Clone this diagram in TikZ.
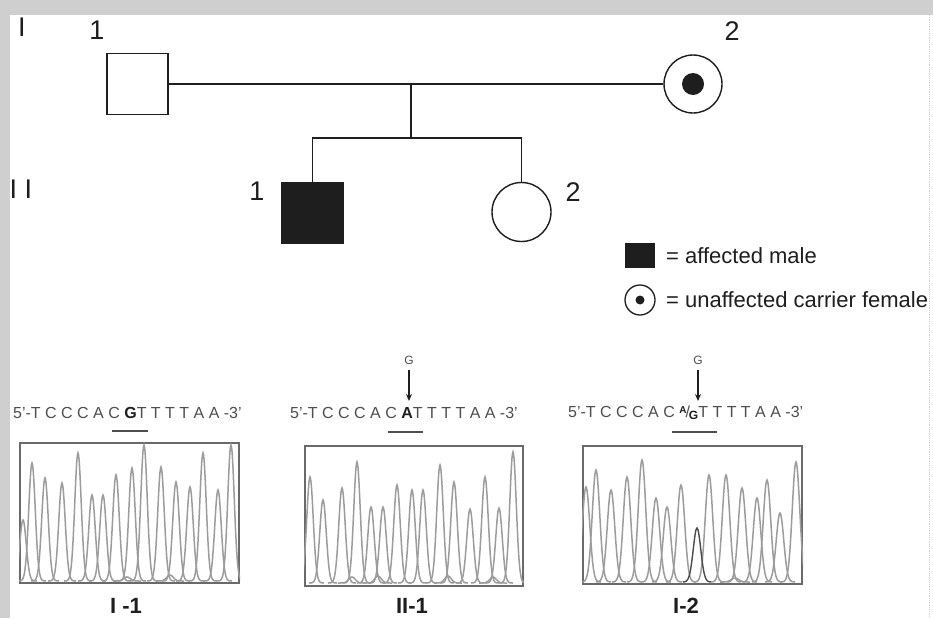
\documentclass[tikz,border=0pt]{standalone}
\usepackage{fontspec}
\setmainfont{Liberation Sans}
\usetikzlibrary{positioning,calc,arrows.meta}
\definecolor{pedink}{HTML}{1E1E1E}
\definecolor{edgegray}{HTML}{CFCFCF}
\definecolor{tracegray}{HTML}{9C9C9C}
\definecolor{boxgray}{HTML}{6A6A6A}
\definecolor{seqgray}{HTML}{4E4E4E}

\begin{document}
\begin{tikzpicture}[x=1pt,y=-1pt,
  malesq/.style={draw=pedink, line width=1.6pt, minimum width=61pt, minimum height=61pt, inner sep=0pt},
  femcirc/.style={circle, draw=pedink, line width=1.4pt, minimum size=58pt, inner sep=0pt},
  pedlink/.style={draw=pedink, line width=1.6pt},
  gennum/.style={font=\fontsize{27}{30}\selectfont, text=pedink, inner sep=0pt},
  legtext/.style={font=\fontsize{22}{26}\selectfont, text=pedink, anchor=west, inner sep=0pt},
  seqtext/.style={font=\fontsize{16}{19}\selectfont, text=seqgray, anchor=west, inner sep=0pt},
  basemark/.style={font=\fontsize{12}{14}\selectfont, text=seqgray, inner sep=0pt},
  seqbar/.style={draw=seqgray, line width=2.6pt},
  chromo/.style={draw=boxgray, line width=2pt, inner sep=0pt},
  peakline/.style={tracegray, line width=1.5pt},
  samplabel/.style={font=\bfseries\fontsize{22}{26}\selectfont, text=pedink, anchor=north, inner sep=0pt},
]
% 1 unit = 1 px of the 933x618 layout, y grows downwards
\useasboundingbox (0,0) rectangle (933,618);
\fill[edgegray] (0,0) rectangle (933,618);
\fill[white] (10,15) rectangle (933,618);
\draw[edgegray, densely dotted, line width=0.8pt] (929,15) -- (929,618);

% pedigree
\node[gennum] (genI)  at (22,27)  {I};
\node[gennum] (genII) at (21,189) {I I};
\node[malesq] (I1) at (137.5,84) {};
\node[femcirc] (I2) at (693,84) {};
\fill[pedink] (I2.center) circle (11);
\node[gennum] (nI1) at (97,30)  {1};
\node[gennum] (nI2) at (732,31) {2};
\node[malesq, fill=pedink] (II1) at (312.5,213) {};
\node[femcirc, minimum size=59pt] (II2) at (521.5,212) {};
\node[gennum] (nII1) at (257,191) {1};
\node[gennum] (nII2) at (573,192) {2};
\coordinate (mate) at (411,84);
\coordinate (sib)  at (411,138);
\draw[pedlink] (I1.east) -- (I2.west);
\draw[pedlink] (mate) -- (sib);
\draw[pedlink] (II1.north) |- (sib) -| (II2.north);

% legend
\node[fill=pedink, minimum width=30pt, minimum height=25pt, inner sep=0pt] (keyaff) at (640,255.5) {};
\node[legtext] (keyafftxt) at (666,256) {= affected male};
\node[circle, draw=pedink, line width=1.3pt, minimum size=30pt, inner sep=0pt] (keycar) at (640,300) {};
\fill[pedink] (keycar.center) circle (4.5);
\node[legtext] (keycartxt) at (666,300) {= unaffected carrier female};

% sequences
\node[seqtext] (seqA) at (13,413)  {5'-T C C C A C \textbf{\color{pedink}G}T T T T A A -3'};
\node[seqtext] (seqB) at (290,413) {5'-T C C C A C \textbf{\color{pedink}A}T T T T A A -3'};
\node[seqtext] (seqC) at (568,413) {5'-T C C C A C \raisebox{4pt}{\fontsize{10}{10}\selectfont\bfseries\color{pedink}A}\kern-1pt/\kern-1pt\raisebox{-2pt}{\fontsize{12}{12}\selectfont\bfseries\color{pedink}G}T T T T A A -3'};
\draw[seqbar] (112,431) -- (148,431);
\draw[seqbar] (388,432) -- (423,432);
\draw[seqbar] (672,432) -- (717,432);
\node[basemark] (mutB) at (409,360) {G};
\node[basemark] (mutC) at (698,360) {G};
\coordinate (tipB) at (409,401);
\coordinate (tipC) at (698,401);
\draw[pedink, line width=1.4pt, -{Stealth[length=7pt,width=6pt]}] (mutB) ++(0,10) -- (tipB);
\draw[pedink, line width=1.4pt, -{Stealth[length=7pt,width=6pt]}] (mutC) ++(0,10) -- (tipC);

% chromatograms
\node[chromo, minimum width=219pt, minimum height=140pt] (trA) at (129.5,513) {};
\node[chromo, minimum width=218pt, minimum height=140pt] (trB) at (414,516) {};
\node[chromo, minimum width=219pt, minimum height=138pt] (trC) at (692.5,515) {};

\begin{scope}
\clip (trA.north west) rectangle (trA.south east);
\foreach \px/\py in {23/520,32/463,45/478,62/483,78/453,92/495,103/495,116/475,132/468,
                     144/445,161/467,176/482,190/487,203/453,218/490,231/445,170/575,127/577} {
  \pgfmathsetmacro{\ph}{581-\py}
  \draw[peakline] plot[domain=\px-14:\px+14, samples=29, smooth] (\x,{581-\ph*exp(-((\x-\px)/4.6)^2)});
}
\end{scope}

\begin{scope}
\clip (trB.north west) rectangle (trB.south east);
\foreach \px/\py in {310/477,323/500,342/488,357/462,371/507,383/507,397/485,412/490,423/490,
                     440/465,454/482,470/509,485/477,499/508,513/452,352/577,378/576,448/576,493/577} {
  \pgfmathsetmacro{\ph}{583-\py}
  \draw[peakline] plot[domain=\px-14:\px+14, samples=29, smooth] (\x,{583-\ph*exp(-((\x-\px)/4.6)^2)});
}
\end{scope}

\begin{scope}
\clip (trC.north west) rectangle (trC.south east);
\foreach \px/\py in {586/487,596/470,611/490,627/477,642/460,656/498,667/507,681/485,709/475,
                     726/475,742/488,757/498,767/480,780/513,796/462,735/578} {
  \pgfmathsetmacro{\ph}{582-\py}
  \draw[peakline] plot[domain=\px-15:\px+15, samples=31, smooth] (\x,{582-\ph*exp(-((\x-\px)/5.3)^2)});
}
% the G trace under the A/G position
\draw[pedink!80, line width=1.4pt] plot[domain=683:711, samples=31, smooth] (\x,{582-54*exp(-((\x-697)/5.3)^2)});
\end{scope}

\node[samplabel] (labA) at (126,598) {I -1};
\node[samplabel] (labB) at (412,598) {II-1};
\node[samplabel] (labC) at (686,598) {I-2};
\end{tikzpicture}
\end{document}
